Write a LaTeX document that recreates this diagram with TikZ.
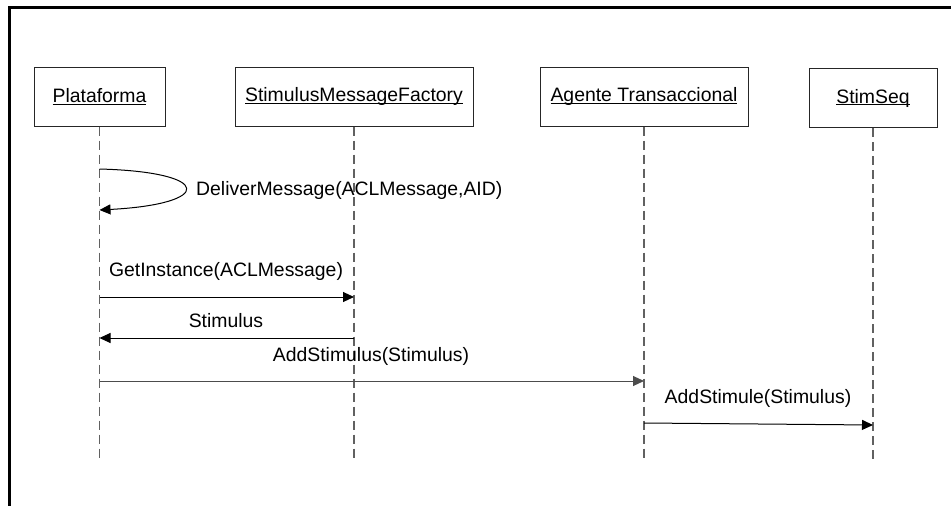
\documentclass[tikz,border=0pt]{standalone}
\usepackage{fontspec}
\setmainfont{Liberation Sans}
\usetikzlibrary{arrows.meta}
\newcommand\undertext[1]{\setbox0\hbox{#1}\rlap{\rule[-2.2pt]{\wd0}{1pt}}\box0}
\begin{document}
\begin{tikzpicture}[x=1pt,y=-1pt,
  obj/.style={draw=black!85,line width=1pt,fill=white,inner sep=0pt,
    minimum height=59pt,font=\fontsize{19.4}{23}\selectfont},
  life/.style={draw=black!62,line width=1.1pt,dash pattern=on 9pt off 5pt},
  msg/.style={draw=black,line width=1pt,-{Triangle[length=11pt,width=10pt]}},
  lbl/.style={font=\fontsize{19.4}{23}\selectfont,inner sep=0pt}]
\useasboundingbox (0,0) rectangle (951,506);
% frame
\draw[line width=3pt] (9.5,506) -- (9.5,7.5) -- (951,7.5);

% objects
\node[obj,minimum width=131pt] (plat) at (99.5,96.5) {\undertext{Plataforma}};
\node[obj,minimum width=238pt] (smf) at (354,96.5) {\undertext{StimulusMessageFactory}};
\node[obj,minimum width=208pt] (agt) at (644,96.5) {\undertext{Agente Transaccional}};
\node[obj,minimum width=128pt] (seq) at (873,98) {\undertext{StimSeq}};

% lifelines
\coordinate (platEnd) at (plat.south |- 0,461);
\coordinate (smfEnd) at (smf.south |- 0,461);
\coordinate (agtEnd) at (agt.south |- 0,461);
\coordinate (seqEnd) at (seq.south |- 0,461);
\draw[life] (plat.south) -- (platEnd);
\draw[life] (smf.south) -- (smfEnd);
\draw[life] (agt.south) -- (agtEnd);
\draw[life] (seq.south) -- (seqEnd);

% message end points
\coordinate (selfA) at (plat.south |- 0,169);
\coordinate (selfB) at (plat.south |- 0,210);
\coordinate (m1a) at (plat.south |- 0,297);
\coordinate (m1b) at (smf.south |- 0,297);
\coordinate (m2a) at (smf.south |- 0,338);
\coordinate (m2b) at (plat.south |- 0,338);
\coordinate (m3a) at (plat.south |- 0,381);
\coordinate (m3b) at (agt.south |- 0,381);
\coordinate (m4a) at (agt.south |- 0,423);
\coordinate (m4b) at (seq.south |- 0,425);

% messages
\draw[msg] (selfA) .. controls (214,172) and (214,204) .. (selfB);
\draw[msg] (m1a) -- (m1b);
\draw[msg] (m2a) -- (m2b);
\draw[msg,draw=black!70] (m3a) -- (m3b);
\draw[msg] (m4a) -- (m4b);

% labels
\node[lbl,anchor=west] (l0) at (196,190) {DeliverMessage(ACLMessage,AID)};
\node[lbl] (l1) at (226,271) {GetInstance(ACLMessage)};
\node[lbl] (l2) at (226,321) {Stimulus};
\node[lbl] (l3) at (371,356) {AddStimulus(Stimulus)};
\node[lbl] (l4) at (758,398) {AddStimule(Stimulus)};
\end{tikzpicture}
\end{document}
